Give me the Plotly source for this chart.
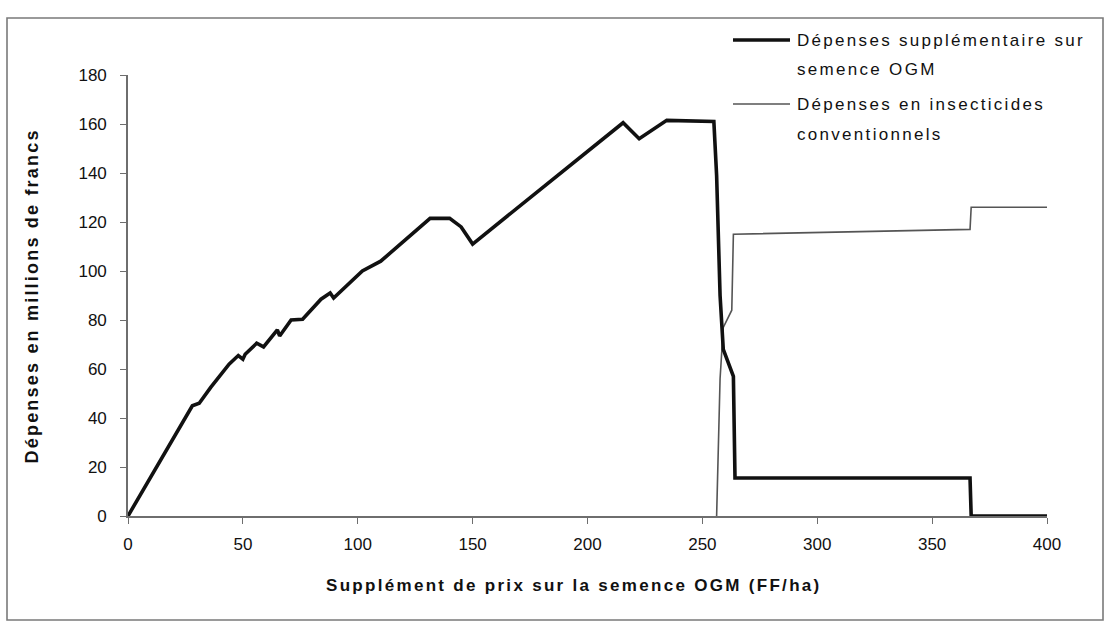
import plotly.graph_objects as go

# Supplément de prix (FF/ha) et dépenses (millions de francs)
ogm_x = [0, 28, 31, 36, 44, 48, 50, 51, 56, 59, 65, 66, 71, 76, 84, 88, 89.5,
         102, 110, 131.5, 140, 142, 145, 150, 215.5, 222.5, 234.5, 255,
         256.2, 257.7, 259.1, 263.5, 264.2, 366.5, 367, 400]
ogm_y = [0, 45, 46, 52.5, 62, 65.5, 64, 66, 70.5, 69, 76, 73.5, 80, 80.3, 88.5, 91, 89,
         100, 104, 121.5, 121.5, 120, 118, 111, 160.5, 154, 161.5, 161,
         139, 90, 68, 57, 15.5, 15.5, 0, 0]

insect_x = [256.2, 257.7, 259.1, 262.8, 263.5, 366.5, 367, 400]
insect_y = [0, 56, 77, 84, 115, 117, 126, 126]

x_ticks = [0, 50, 100, 150, 200, 250, 300, 350, 400]
y_ticks = [0, 20, 40, 60, 80, 100, 120, 140, 160, 180]

legend_ogm = ["Dépenses supplémentaire sur", "semence OGM"]
legend_insect = ["Dépenses en insecticides", "conventionnels"]
x_title = "Supplément de prix sur la semence OGM (FF/ha)"
y_title = "Dépenses en millions de francs"

FONT = "Liberation Sans, Arial, sans-serif"
AXIS_COLOR = "#6e6e6e"

fig = go.Figure()
fig.add_trace(go.Scatter(x=insect_x, y=insect_y, mode="lines",
                         line=dict(color="#555555", width=1.6), showlegend=False))
fig.add_trace(go.Scatter(x=ogm_x, y=ogm_y, mode="lines",
                         line=dict(color="#111111", width=3.6), showlegend=False))


def spaced(text, px):
    return f'<span style="letter-spacing:{px}px">{text}</span>'


annotations = [
    dict(text=spaced(y_title, 2.2), x=-0.1045, y=0.5, xref="paper", yref="paper",
         textangle=-90, showarrow=False, xanchor="center", yanchor="middle",
         font=dict(family=FONT, size=18, color="#111111", weight="bold")),
    dict(text=spaced(x_title, 2.3), x=0.4853, y=-0.1565, xref="paper", yref="paper",
         showarrow=False, xanchor="center", yanchor="middle",
         font=dict(family=FONT, size=17, color="#111111", weight="bold")),
]

legend_rows = [(legend_ogm, 40, 3.6, "#111111"), (legend_insect, 104, 1.6, "#555555")]
shapes = []
H = 441.0
W = 919.0
for lines, ypx, lw, col in legend_rows:
    yp = (516 - ypx) / H
    shapes.append(dict(type="line", xref="paper", yref="paper",
                       x0=(733 - 128) / W, x1=(790 - 128) / W, y0=yp, y1=yp,
                       line=dict(color=col, width=lw)))
    for i, t in enumerate(lines):
        annotations.append(dict(text=spaced(t, 2.3), x=(795 - 128) / W,
                                y=(516 - ypx - i * 30) / H,
                                xref="paper", yref="paper", showarrow=False,
                                xanchor="left", yanchor="middle",
                                font=dict(family=FONT, size=17, color="#111111")))

# cadre du graphique
shapes.append(dict(type="rect", xref="paper", yref="paper",
                   x0=(7 - 128) / W, x1=(1103 - 128) / W,
                   y0=(516 - 620) / H, y1=(516 - 18) / H,
                   line=dict(color="#7a7a7a", width=1.6), layer="below"))

fig.update_layout(
    width=1110, height=629,
    margin=dict(l=128, r=63, t=75, b=113),
    paper_bgcolor="white", plot_bgcolor="white",
    font=dict(family=FONT, size=17, color="#111111"),
    showlegend=False,
    annotations=annotations,
    shapes=shapes,
    xaxis=dict(range=[0, 400], tickvals=x_ticks, ticktext=[str(v) for v in x_ticks],
               showgrid=False, zeroline=False, showline=True, linecolor=AXIS_COLOR,
               linewidth=1.6, ticks="outside", ticklen=6, tickcolor=AXIS_COLOR,
               tickwidth=1.4, ticklabelstandoff=6,
               tickfont=dict(family=FONT, size=17, color="#111111")),
    yaxis=dict(range=[0, 180], tickvals=y_ticks, ticktext=[str(v) for v in y_ticks],
               showgrid=False, zeroline=False, showline=True, linecolor=AXIS_COLOR,
               linewidth=1.6, ticks="outside", ticklen=6, tickcolor=AXIS_COLOR,
               tickwidth=1.4, ticklabelstandoff=10,
               tickfont=dict(family=FONT, size=17, color="#111111")),
)

fig.write_html("out.html")
